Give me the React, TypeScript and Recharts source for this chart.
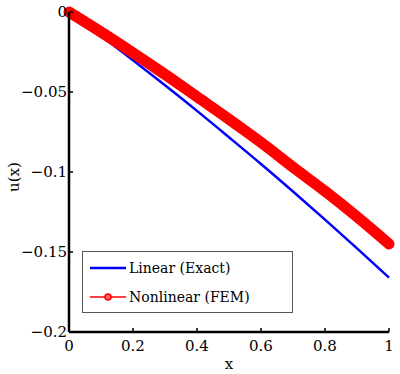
import React from 'react';
import { LineChart, Line, XAxis, YAxis, Legend, Label } from 'recharts';

const xs = [0, 0.1, 0.2, 0.3, 0.4, 0.5, 0.6, 0.7, 0.8, 0.9, 1.0];
const linearExact = [0, -0.0149, -0.0302, -0.0458, -0.0618, -0.0783, -0.095, -0.1122, -0.1298, -0.1477, -0.166];
const nonlinearFEM = [0, -0.0125, -0.0255, -0.039, -0.053, -0.067, -0.0815, -0.097, -0.112, -0.128, -0.145];
const xTicks = [0, 0.2, 0.4, 0.6, 0.8, 1];
const yTicks = [0, -0.05, -0.1, -0.15, -0.2];
const seriesNames = ['Linear (Exact)', 'Nonlinear (FEM)'];

const data = xs.map((x, i) => ({ x, lin: linearExact[i], nl: nonlinearFEM[i] }));

const FONT = "'DejaVu Serif', serif";
const fmt = (v: number) => String(v).replace('-', '\u2212');

const BottomTick = (props: any) => {
  const { x, y, payload } = props;
  return (
    <g>
      <line x1={x} x2={x} y1={y} y2={y - 4} stroke="#000" strokeWidth={1.5} />
      <text x={x} y={y + 19} textAnchor="middle" style={{ fontFamily: FONT }} fontSize={15} fill="#000">
        {fmt(payload.value)}
      </text>
    </g>
  );
};
const TopTick = (props: any) => {
  const { x, y } = props;
  return <line x1={x} x2={x} y1={y} y2={y + 4} stroke="#000" strokeWidth={1.5} />;
};
const LeftTick = (props: any) => {
  const { x, y, payload } = props;
  return (
    <g>
      <line x1={x} x2={x + 4} y1={y} y2={y} stroke="#000" strokeWidth={1.5} />
      <text x={x - 2} y={y + 5} textAnchor="end" style={{ fontFamily: FONT }} fontSize={15} fill="#000">
        {fmt(payload.value)}
      </text>
    </g>
  );
};
const RightTick = (props: any) => {
  const { x, y } = props;
  return <line x1={x} x2={x - 4} y1={y} y2={y} stroke="#000" strokeWidth={1.5} />;
};

const LegendBox = () => (
  <div
    style={{
      width: 209,
      height: 60,
      border: '1px solid #555',
      background: '#fff',
      fontFamily: FONT,
      fontSize: 14,
      color: '#000',
      position: 'relative',
    }}
  >
    <svg width={46} height={60} style={{ position: 'absolute', left: 0, top: 0 }}>
      <line x1={7} x2={43} y1={16} y2={16} stroke="#0000ff" strokeWidth={2.5} />
      <line x1={7} x2={43} y1={45} y2={45} stroke="#ff0000" strokeWidth={1.5} />
      <circle cx={25} cy={45} r={3} stroke="#ff0000" strokeWidth={1.5} fill="#ff6666" />
    </svg>
    <div style={{ position: 'absolute', left: 46, top: 5, lineHeight: '22px', whiteSpace: 'nowrap' }}>{seriesNames[0]}</div>
    <div style={{ position: 'absolute', left: 46, top: 34, lineHeight: '22px', whiteSpace: 'nowrap' }}>{seriesNames[1]}</div>
  </div>
);

export default function App() {
  return (
    <div style={{ position: 'absolute', left: 0, top: 0, width: 400, height: 374, background: '#fff' }}>
      <LineChart width={400} height={374} data={data} margin={{ top: 12, right: 11, bottom: 0, left: 0 }}>
        <XAxis
          xAxisId="b"
          dataKey="x"
          type="number"
          domain={[0, 1]}
          ticks={xTicks}
          tick={<BottomTick />}
          tickLine={false}
          tickSize={0}
          tickMargin={0}
          height={42}
          axisLine={{ stroke: '#000', strokeWidth: 2.5 }}
        >
          <Label value="x" position="insideBottom" offset={5} style={{ fontFamily: FONT, fontSize: 15, fill: '#000' }} />
        </XAxis>
        <XAxis
          xAxisId="t"
          orientation="top"
          dataKey="x"
          type="number"
          domain={[0, 1]}
          ticks={xTicks}
          tick={<TopTick />}
          tickLine={false}
          tickSize={0}
          tickMargin={0}
          height={0}
          axisLine={{ stroke: '#000', strokeWidth: 2.5 }}
        />
        <YAxis
          yAxisId="l"
          type="number"
          domain={[-0.2, 0]}
          ticks={yTicks}
          tick={<LeftTick />}
          tickLine={false}
          tickSize={0}
          tickMargin={0}
          width={69}
          axisLine={{ stroke: '#000', strokeWidth: 2.5 }}
        >
          <Label
            content={(p: any) => {
              const vb = p.viewBox || {};
              const cx = vb.x + 14;
              const cy = vb.y + vb.height / 2 + 5;
              return (
                <text
                  x={cx}
                  y={cy}
                  transform={`rotate(-90 ${cx} ${cy})`}
                  textAnchor="middle"
                  dominantBaseline="central"
                  style={{ fontFamily: FONT }}
                  fontSize={15}
                  fill="#000"
                >
                  u(x)
                </text>
              );
            }}
          />
        </YAxis>
        <YAxis
          yAxisId="r"
          orientation="right"
          type="number"
          domain={[-0.2, 0]}
          ticks={yTicks}
          tick={<RightTick />}
          tickLine={false}
          tickSize={0}
          tickMargin={0}
          width={0}
          axisLine={{ stroke: '#000', strokeWidth: 2.5 }}
        />
        <Legend
          layout="horizontal"
          verticalAlign="middle"
          align="center"
          content={<LegendBox />}
          wrapperStyle={{ position: 'absolute', left: 82, top: 251, width: 211, height: 62 }}
        />
        <Line
          xAxisId="b"
          yAxisId="l"
          type="monotone"
          dataKey="lin"
          name={seriesNames[0]}
          stroke="#0000ff"
          strokeWidth={2.5}
          dot={false}
          isAnimationActive={false}
        />
        <Line
          xAxisId="b"
          yAxisId="l"
          type="monotone"
          dataKey="nl"
          name={seriesNames[1]}
          stroke="#ff0000"
          strokeWidth={11}
          strokeLinecap="round"
          dot={false}
          isAnimationActive={false}
        />
      </LineChart>
    </div>
  );
}
